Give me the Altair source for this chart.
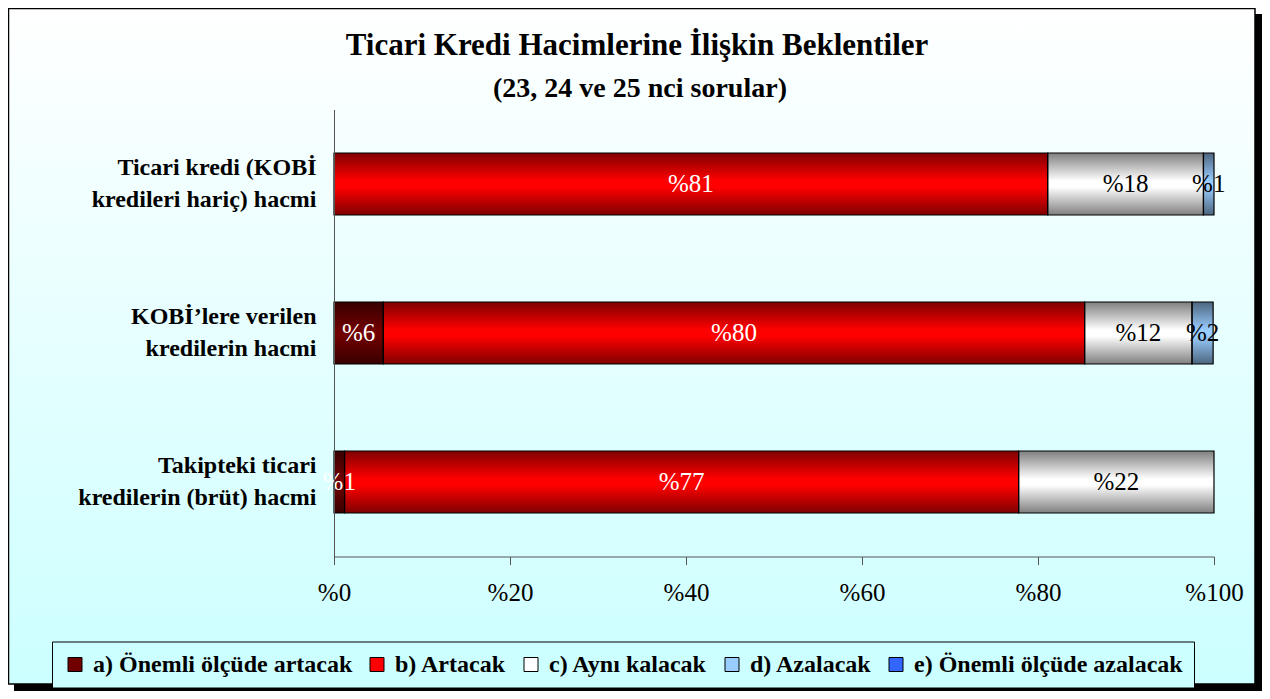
import altair as alt
import pandas as pd

title_text = "Ticari Kredi Hacimlerine İlişkin Beklentiler"
subtitle_text = "(23, 24 ve 25 nci sorular)"
questions = [
    "Ticari kredi (KOBİ\nkredileri hariç) hacmi",
    "KOBİ’lere verilen\nkredilerin hacmi",
    "Takipteki ticari\nkredilerin (brüt) hacmi",
]
categories = [
    "a) Önemli ölçüde artacak",
    "b) Artacak",
    "c) Aynı kalacak",
    "d) Azalacak",
    "e) Önemli ölçüde azalacak",
]
colors = ["#700000", "#ff0000", "#ffffff", "#99ccff", "#3366ff"]
a_vals = [0.0, 5.6, 1.2]
b_vals = [81.1, 79.7, 76.6]
c_vals = [17.7, 12.2, 22.2]
d_vals = [1.2, 2.4, 0.0]
e_vals = [0.0, 0.0, 0.0]
x_ticks = [0, 20, 40, 60, 80, 100]

FONT = "Liberation Serif"

series = [a_vals, b_vals, c_vals, d_vals, e_vals]
rows = []
for k, (cat, vals) in enumerate(zip(categories, series)):
    for q, v in zip(questions, vals):
        rows.append({"q": q, "cat": cat, "k": k, "v": v})
df = pd.DataFrame(rows)

base = (
    alt.Chart(df)
    .transform_window(end="sum(v)", groupby=["q"], sort=[alt.SortField("k")], frame=[None, 0])
    .transform_calculate(start="datum.end - datum.v")
    .transform_calculate(mid="(datum.start + datum.end) / 2")
    .transform_calculate(lbl='"%" + format(datum.v, ".0f")')
    .transform_filter("datum.v > 0")
)

x_enc = alt.X(
    "start:Q",
    scale=alt.Scale(domain=[0, 100], nice=False),
    title=None,
    axis=alt.Axis(
        values=x_ticks, labelExpr='"%" + datum.value', grid=False, tickSize=8,
        labelPadding=16, labelFont=FONT, labelFontSize=25, labelColor="black",
        domainColor="#555555", tickColor="#555555", zindex=1, labelFlush=False,
    ),
)
y_enc = alt.Y(
    "q:N",
    sort=questions,
    title=None,
    scale=alt.Scale(paddingInner=0.584, paddingOuter=0.292),
    axis=alt.Axis(
        ticks=False, labelExpr="split(datum.label, '\\n')", labelFont=FONT,
        labelFontWeight="bold", labelFontSize=24, labelLineHeight=32,
        labelPadding=18, labelOffset=-16, labelColor="black",
        domainColor="#555555", zindex=1, labelLimit=400,
    ),
)

shade = alt.Gradient(
    gradient="linear", x1=0, y1=0, x2=0, y2=1,
    stops=[
        alt.GradientStop(offset=0, color="rgba(0,0,0,0.5)"),
        alt.GradientStop(offset=0.45, color="rgba(0,0,0,0)"),
        alt.GradientStop(offset=0.55, color="rgba(0,0,0,0)"),
        alt.GradientStop(offset=1, color="rgba(0,0,0,0.5)"),
    ],
)
bg_grad = alt.Gradient(
    gradient="linear", x1=0, y1=0, x2=0, y2=1,
    stops=[
        alt.GradientStop(offset=0, color="#ffffff"),
        alt.GradientStop(offset=1, color="#ccffff"),
    ],
)

one = alt.Data(values=[{"z": 1}])
shadow = alt.Chart(one).mark_rect(fill="black").encode(
    x=alt.value(-320), x2=alt.value(928), y=alt.value(-95.5), y2=alt.value(581.5)
)
frame = alt.Chart(one).mark_rect(fill=bg_grad, stroke="black", strokeWidth=1.5).encode(
    x=alt.value(-325.5), x2=alt.value(921), y=alt.value(-101), y2=alt.value(574.5)
)
title_mark = alt.Chart(one).mark_text(
    text=title_text, font=FONT, fontSize=31, fontWeight="bold", color="black",
    align="center", baseline="middle",
).encode(x=alt.value(303), y=alt.value(-64))
subtitle_mark = alt.Chart(one).mark_text(
    text=subtitle_text, font=FONT, fontSize=28, fontWeight="bold", color="black",
    align="center", baseline="middle",
).encode(x=alt.value(306), y=alt.value(-21))

bars = base.mark_bar(strokeWidth=0).encode(
    x=x_enc, x2="end:Q", y=y_enc,
    color=alt.Color(
        "cat:N",
        scale=alt.Scale(domain=categories, range=colors),
        legend=alt.Legend(
            orient="none", legendX=-282, legendY=532, direction="horizontal",
            columns=5, title=None, symbolType="square", symbolSize=196,
            symbolStrokeColor="black", symbolStrokeWidth=1, symbolOpacity=1,
            labelFont=FONT, labelFontWeight="bold", labelFontSize=24,
            labelColor="black", labelLimit=500, fillColor="#ccffff",
            strokeColor="black", padding=11, columnPadding=12, labelOffset=6,
        ),
    ),
)
overlay = base.mark_bar(fill=shade, stroke="black", strokeWidth=1.2).encode(
    x=x_enc, x2="end:Q", y=y_enc
)
labels = base.mark_text(font=FONT, fontSize=25, baseline="middle", align="center").encode(
    x=alt.X("mid:Q", scale=alt.Scale(domain=[0, 100], nice=False), title=None),
    y=y_enc,
    text="lbl:N",
    color=alt.when("datum.k <= 1").then(alt.value("white")).otherwise(alt.value("black")),
)

chart = (
    alt.layer(shadow, frame, title_mark, subtitle_mark, bars, overlay, labels)
    .properties(
        width=880,
        height=447,
        padding={"left": 326, "top": 101.5, "right": 48, "bottom": 134.5},
        autosize=alt.AutoSizeParams(type="none"),
    )
    .configure_view(stroke=None)
)

chart.save("out.html", embed_options={"renderer": "svg", "actions": False})
